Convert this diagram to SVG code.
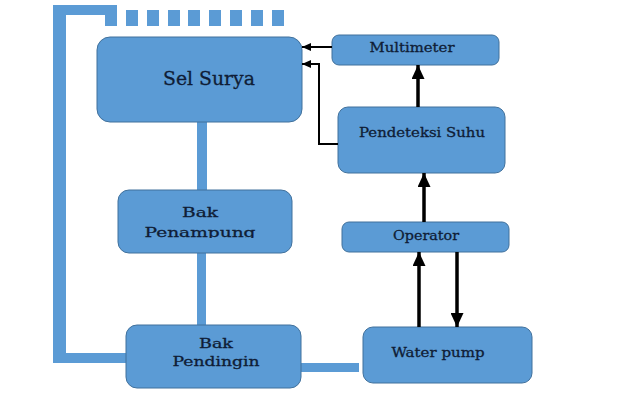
<svg xmlns="http://www.w3.org/2000/svg" width="622" height="401" viewBox="0 0 622 401">
<style>
.box{fill:#5b9bd5;stroke:#41719c;stroke-width:1}
.pipe{fill:#5b9bd5}
.t{font-family:"DejaVu Serif","Liberation Serif",serif;fill:#0f1d36;stroke:#0f1d36;stroke-width:0.3;text-anchor:middle;font-size:13px}
.big{font-size:19px}
.thick{stroke:#000;stroke-width:3.5;fill:none}
.thin{stroke:#000;stroke-width:2;fill:none}
</style>
<defs>
<marker id="ah" markerUnits="userSpaceOnUse" markerWidth="14" markerHeight="13" refX="14" refY="6.5" orient="auto">
<path d="M0,0 L14,6.5 L0,13 z" fill="#000"/>
</marker>
<marker id="ahs" markerUnits="userSpaceOnUse" markerWidth="9" markerHeight="8" refX="9" refY="4" orient="auto">
<path d="M0,0 L9,4 L0,8 z" fill="#000"/>
</marker>
<clipPath id="clipPen"><rect x="100" y="190" width="200" height="48"/></clipPath>
</defs>
<rect width="622" height="401" fill="#fff"/>
<g id="pipes">
<rect class="pipe" x="53" y="5" width="13" height="358"/>
<rect class="pipe" x="53" y="5" width="59" height="10"/>
<rect class="pipe" x="105" y="5" width="12" height="21"/>
<rect class="pipe" x="53" y="353" width="73" height="10"/>
<rect class="pipe" x="126" y="10" width="12" height="16"/>
<rect class="pipe" x="147" y="10" width="12" height="16"/>
<rect class="pipe" x="168" y="10" width="12" height="16"/>
<rect class="pipe" x="188" y="10" width="12" height="16"/>
<rect class="pipe" x="209" y="10" width="12" height="16"/>
<rect class="pipe" x="230" y="10" width="12" height="16"/>
<rect class="pipe" x="251" y="10" width="12" height="16"/>
<rect class="pipe" x="272" y="10" width="12" height="16"/>
<rect class="pipe" x="197" y="120" width="10" height="72"/>
<rect class="pipe" x="197" y="251" width="9" height="76"/>
<rect class="pipe" x="299" y="363" width="60" height="9"/>
</g>
<g id="sel-surya">
<rect class="box" x="97" y="37" width="205" height="85" rx="13"/>
<text class="t big" x="209" y="85" textLength="92" lengthAdjust="spacingAndGlyphs">Sel Surya</text>
</g>
<g id="bak-penampung">
<rect class="box" x="118" y="190" width="174" height="63" rx="11"/>
<text class="t" x="200" y="217" textLength="36" lengthAdjust="spacingAndGlyphs">Bak</text>
<text class="t" x="200" y="237" textLength="111" lengthAdjust="spacingAndGlyphs" clip-path="url(#clipPen)">Penampung</text>
</g>
<g id="bak-pendingin">
<rect class="box" x="126" y="325" width="175" height="63" rx="11"/>
<text class="t" x="216" y="348" textLength="34" lengthAdjust="spacingAndGlyphs">Bak</text>
<text class="t" x="216" y="366" textLength="87" lengthAdjust="spacingAndGlyphs">Pendingin</text>
</g>
<g id="multimeter">
<rect class="box" x="332" y="35" width="167" height="30" rx="7"/>
<text class="t" x="412" y="52" textLength="85" lengthAdjust="spacingAndGlyphs">Multimeter</text>
</g>
<g id="pendeteksi-suhu">
<rect class="box" x="338" y="107" width="167" height="66" rx="10"/>
<text class="t" x="422" y="137" textLength="126" lengthAdjust="spacingAndGlyphs">Pendeteksi Suhu</text>
</g>
<g id="operator">
<rect class="box" x="342" y="222" width="167" height="30" rx="7"/>
<text class="t" x="426" y="240" textLength="66" lengthAdjust="spacingAndGlyphs">Operator</text>
</g>
<g id="water-pump">
<rect class="box" x="363" y="327" width="169" height="56" rx="10"/>
<text class="t" x="438" y="357" textLength="93" lengthAdjust="spacingAndGlyphs">Water pump</text>
</g>
<g id="connectors">
<line class="thick" x1="418" y1="107" x2="418" y2="65" marker-end="url(#ah)"/>
<line class="thick" x1="424" y1="222" x2="424" y2="173" marker-end="url(#ah)"/>
<line class="thick" x1="419" y1="327" x2="419" y2="252" marker-end="url(#ah)"/>
<line class="thick" x1="457" y1="252" x2="457" y2="327" marker-end="url(#ah)"/>
<line class="thin" x1="332" y1="47" x2="302" y2="47" marker-end="url(#ahs)"/>
<polyline class="thin" points="338,144 319,144 319,64 302,64" marker-end="url(#ahs)"/>
</g>
</svg>
